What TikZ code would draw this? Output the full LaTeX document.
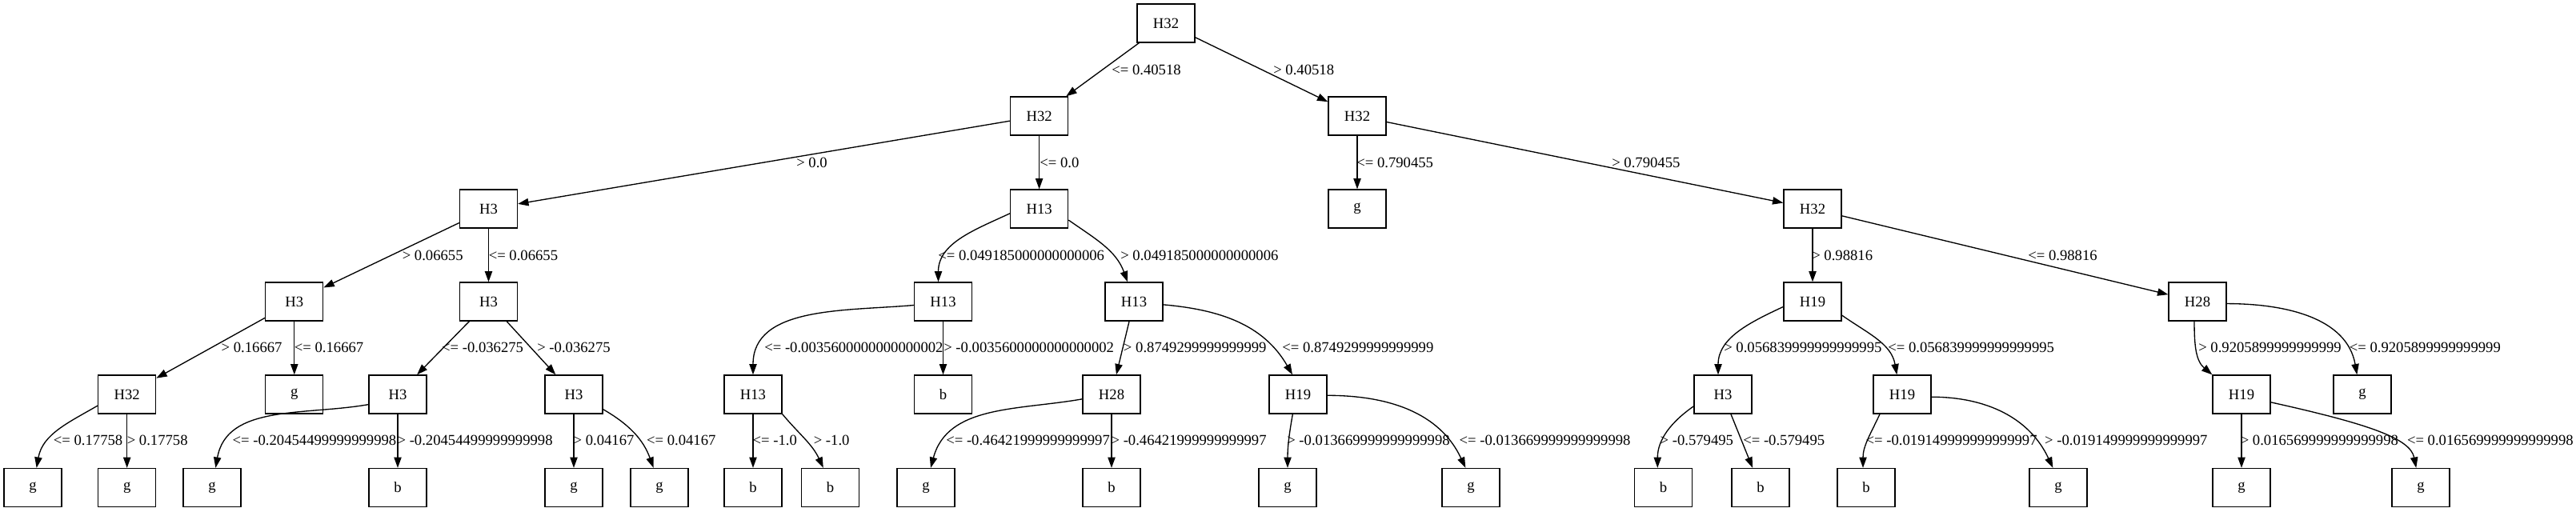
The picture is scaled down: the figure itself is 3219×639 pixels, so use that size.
\documentclass[tikz,border=0pt]{standalone}
\usepackage{fontspec}
\setmainfont{Liberation Serif}
\usetikzlibrary{arrows.meta}
\tikzset{
  box/.style={draw, line width=1pt, minimum width=54pt, minimum height=36pt, inner sep=0pt, font=\fontsize{14}{16}\selectfont},
  edge/.style={-{Triangle[length=10pt,width=7pt]}, line width=1pt},
  lbl/.style={anchor=west, inner sep=0pt, font=\fontsize{14}{16}\selectfont}
}
\begin{document}
\begin{tikzpicture}[x=0.75pt,y=0.75pt]
\useasboundingbox (0,0) rectangle (3219,-639);
% level 0
\node[box] (r) at (1457,-29) {H32};
% level 1
\node[box] (a) at (1298.6,-145) {H32};
\node[box] (b) at (1696,-145) {H32};
% level 2
\node[box] (c) at (610.5,-261) {H3};
\node[box] (d) at (1298.6,-261) {H13};
\node[box] (e) at (1696,-261) {g};
\node[box] (f) at (2265,-261) {H32};
% level 3
\node[box] (c1) at (367.8,-377) {H3};
\node[box] (c2) at (610.5,-377) {H3};
\node[box] (d1) at (1178.5,-377) {H13};
\node[box] (d2) at (1417,-377) {H13};
\node[box] (f1) at (2265,-377) {H19};
\node[box] (f2) at (2746,-377) {H28};
% level 4
\node[box] (c11) at (158.7,-493) {H32};
\node[box] (c12) at (367.8,-493) {g};
\node[box] (c21) at (497,-493) {H3};
\node[box] (c22) at (717,-493) {H3};
\node[box] (d11) at (941,-493) {H13};
\node[box] (d12) at (1178.5,-493) {b};
\node[box] (d21) at (1389,-493) {H28};
\node[box] (d22) at (1622,-493) {H19};
\node[box] (f11) at (2153,-493) {H3};
\node[box] (f12) at (2377,-493) {H19};
\node[box] (f21) at (2801,-493) {H19};
\node[box] (f22) at (2952,-493) {g};
% level 5
\node[box] (c111) at (41,-609.5) {g};
\node[box] (c112) at (158.7,-609.5) {g};
\node[box] (c211) at (265,-609.5) {g};
\node[box] (c212) at (497,-609.5) {b};
\node[box] (c221) at (717,-609.5) {g};
\node[box] (c222) at (824,-609.5) {g};
\node[box] (d111) at (941,-609.5) {b};
\node[box] (d112) at (1037.5,-609.5) {b};
\node[box] (d211) at (1157,-609.5) {g};
\node[box] (d212) at (1389,-609.5) {b};
\node[box] (d221) at (1609,-609.5) {g};
\node[box] (d222) at (1838,-609.5) {g};
\node[box] (f111) at (2078.6,-609.5) {b};
\node[box] (f112) at (2200,-609.5) {b};
\node[box] (f121) at (2332,-609.5) {b};
\node[box] (f122) at (2572,-609.5) {g};
\node[box] (f211) at (2801,-609.5) {g};
\node[box] (f212) at (3025,-609.5) {g};
% straight edges
\draw[edge] (r) -- (a);
\draw[edge] (r) -- (b);
\draw[edge] (a) -- (c);
\draw[edge] (a) -- (d);
\draw[edge] (b) -- (e);
\draw[edge] (b) -- (f);
\draw[edge] (c) -- (c1);
\draw[edge] (c) -- (c2);
\draw[edge] (f) -- (f1);
\draw[edge] (f) -- (f2);
\draw[edge] (c1) -- (c11);
\draw[edge] (c1) -- (c12);
\draw[edge] (c2) -- (c21);
\draw[edge] (c2) -- (c22);
\draw[edge] (d1) -- (d12);
\draw[edge] (d2) -- (d21);
\draw[edge] (c11) -- (c112);
\draw[edge] (c21) -- (c212);
\draw[edge] (c22) -- (c221);
\draw[edge] (d11) -- (d111);
\draw[edge] (d21) -- (d212);
\draw[edge] (f11) -- (f112);
\draw[edge] (f21) -- (f211);
% curved edges
\draw[edge] (d.189) to[out=205,in=90] ([xshift=-4.5pt]d1.north);
\draw[edge] (d.-21) to[out=-35,in=110] ([xshift=-6pt]d2.north);
\draw[edge] (d1.187) to[out=185,in=90] (d11.north);
\draw[edge] (d2.-6) to[out=-5,in=120] ([xshift=-5.25pt]d22.north);
\draw[edge] (f1.190) to[out=205,in=90] ([xshift=-4.5pt]f11.north);
\draw[edge] (f1.-25) to[out=-35,in=100] ([xshift=-5pt]f12.north);
\draw[edge] ([xshift=-3pt]f2.south) to[out=-90,in=140] (f21.north west);
\draw[edge] (f2.-4) to[out=0,in=100] ([xshift=-5pt]f22.north);
\draw[edge] (c11.201) to[out=210,in=80] ([xshift=3.5pt]c111.north);
\draw[edge] (c21.199) to[out=190,in=80] ([xshift=3.3pt]c211.north);
\draw[edge] (c22.-27) to[out=-30,in=110] ([xshift=-5.5pt]c222.north);
\draw[edge] (d11.south east) to[out=-50,in=115] ([xshift=-6.5pt]d112.north);
\draw[edge] (d21.189.5) to[out=190,in=75] ([xshift=4.5pt]d211.north);
\draw[edge] ([xshift=-5pt]d22.south) to[out=-100,in=90] (d221.north);
\draw[edge] (d22.-2) to[out=0,in=115] ([xshift=-5pt]d222.north);
\draw[edge] (f11.202.6) to[out=215,in=90] ([xshift=-5.5pt]f111.north);
\draw[edge] ([xshift=-21pt]f12.south) to[out=-115,in=90] ([xshift=-3pt]f121.north);
\draw[edge] (f12.-5) to[out=0,in=115] ([xshift=-5pt]f122.north);
\draw[edge] (f21.-15) .. controls (2960,-530) and (3012,-548) .. ([xshift=-4.3pt]f212.north);
% labels
\node[lbl] (l01) at (1389,-87) {<= 0.40518};
\node[lbl] (l02) at (1591,-87) {> 0.40518};
\node[lbl] (l03) at (995,-203) {> 0.0};
\node[lbl] (l04) at (1299,-203) {<= 0.0};
\node[lbl] (l05) at (1695,-203) {<= 0.790455};
\node[lbl] (l06) at (2014,-203) {> 0.790455};
\node[lbl] (l07) at (502.5,-319) {> 0.06655};
\node[lbl] (l08) at (610.5,-319) {<= 0.06655};
\node[lbl] (l09) at (1172,-319) {<= 0.049185000000000006};
\node[lbl] (l10) at (1400,-319) {> 0.049185000000000006};
\node[lbl] (l11) at (2264,-319) {> 0.98816};
\node[lbl] (l12) at (2534,-319) {<= 0.98816};
\node[lbl] (l13) at (276.4,-434.3) {> 0.16667};
\node[lbl] (l14) at (367.6,-434.3) {<= 0.16667};
\node[lbl] (l15) at (551.8,-434.3) {<= -0.036275};
\node[lbl] (l16) at (671,-434.3) {> -0.036275};
\node[lbl] (l17) at (955,-434.3) {<= -0.0035600000000000002};
\node[lbl] (l18) at (1179,-434.3) {> -0.0035600000000000002};
\node[lbl] (l19) at (1403.7,-434.3) {> 0.8749299999999999};
\node[lbl] (l20) at (1602,-434.3) {<= 0.8749299999999999};
\node[lbl] (l21) at (2154,-434.3) {> 0.056839999999999995};
\node[lbl] (l22) at (2359,-434.3) {<= 0.056839999999999995};
\node[lbl] (l23) at (2747,-434.3) {> 0.9205899999999999};
\node[lbl] (l24) at (2935.5,-434.3) {<= 0.9205899999999999};
\node[lbl] (l25) at (66.6,-550) {<= 0.17758};
\node[lbl] (l26) at (158.5,-550) {> 0.17758};
\node[lbl] (l27) at (290.4,-550) {<= -0.20454499999999998};
\node[lbl] (l28) at (496.3,-550) {> -0.20454499999999998};
\node[lbl] (l29) at (716.3,-550) {> 0.04167};
\node[lbl] (l30) at (807.8,-550) {<= 0.04167};
\node[lbl] (l31) at (940.4,-550) {<= -1.0};
\node[lbl] (l32) at (1016.5,-550) {> -1.0};
\node[lbl] (l33) at (1182,-550) {<= -0.46421999999999997};
\node[lbl] (l34) at (1388.3,-550) {> -0.46421999999999997};
\node[lbl] (l35) at (1608,-550) {> -0.013669999999999998};
\node[lbl] (l36) at (1823.3,-550) {<= -0.013669999999999998};
\node[lbl] (l37) at (2074.3,-550) {> -0.579495};
\node[lbl] (l38) at (2178,-550) {<= -0.579495};
\node[lbl] (l39) at (2331.4,-550) {<= -0.019149999999999997};
\node[lbl] (l40) at (2554.8,-550) {> -0.019149999999999997};
\node[lbl] (l41) at (2799.5,-550) {> 0.016569999999999998};
\node[lbl] (l42) at (3007.7,-550) {<= 0.016569999999999998};
\end{tikzpicture}
\end{document}
